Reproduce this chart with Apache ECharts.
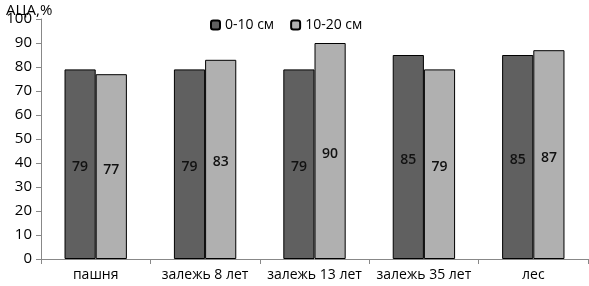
<!DOCTYPE html>
<html><head><meta charset="utf-8">
<script src="https://cdn.jsdelivr.net/npm/echarts@6/dist/echarts.min.js"></script>
<style>html,body{margin:0;padding:0;background:#fff}#c{width:589px;height:286px}</style>
</head><body><div id="c"></div>
<script>
const categories = ['пашня','залежь 8 лет','залежь 13 лет','залежь 35 лет','лес'];
const s1 = [79,79,79,85,85];
const s2 = [77,83,90,79,87];
const names = ['0-10 см','10-20 см'];
const chart = echarts.init(document.getElementById('c'));
const font = 'Open Sans';
chart.setOption({
  animation:false,
  title:{text:'АЦА,%',left:1,top:-2,textStyle:{fontFamily:font,fontSize:15,fontWeight:'normal',color:'#000'}},
  legend:{left:205,top:13,itemWidth:9,itemHeight:9,itemGap:16,textStyle:{fontFamily:font,fontSize:14,color:'#000'},
    data:names},
  grid:{left:41,top:19,right:1,bottom:27},
  xAxis:{type:'category',data:categories,
    axisLine:{lineStyle:{color:'#888'}},
    axisTick:{show:true,lineStyle:{color:'#888'},length:5},
    axisLabel:{fontFamily:font,fontSize:14,color:'#000',margin:9,interval:0}},
  yAxis:{type:'value',min:0,max:100,interval:10,
    axisLine:{show:true,lineStyle:{color:'#888'}},
    axisTick:{show:true,lineStyle:{color:'#888'},length:5},
    splitLine:{show:false},
    axisLabel:{fontFamily:font,fontSize:15,color:'#000',margin:9}},
  series:[
    {name:names[0],type:'bar',data:s1,barGap:'0%',barCategoryGap:'43%',
      itemStyle:{color:'#606060',borderColor:'#000',borderWidth:1},
      label:{show:true,position:'inside',offset:[0,3],fontFamily:font,fontSize:14,fontWeight:600,color:'#111'}},
    {name:names[1],type:'bar',data:s2,
      itemStyle:{color:'#b0b0b0',borderColor:'#000',borderWidth:1},
      label:{show:true,position:'inside',offset:[0,3],fontFamily:font,fontSize:14,fontWeight:600,color:'#111'}}
  ]
});
</script></body></html>
